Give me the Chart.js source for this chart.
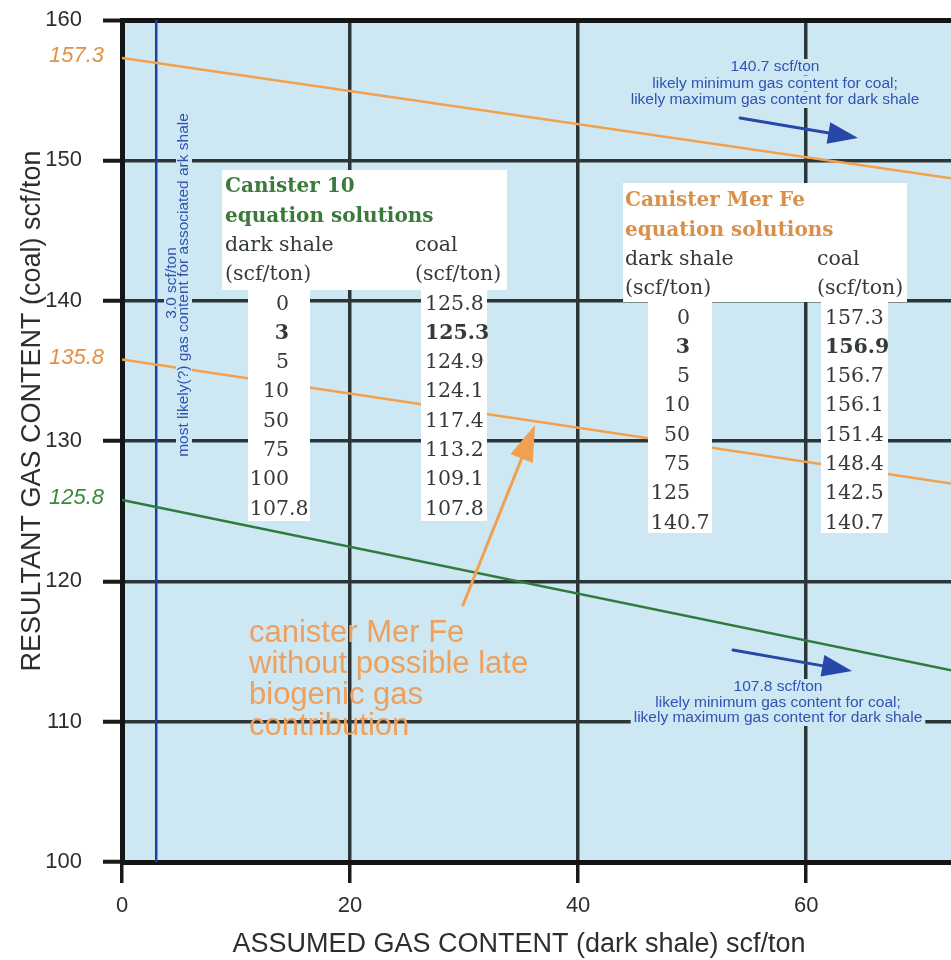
<!DOCTYPE html>
<html>
<head>
<meta charset="utf-8">
<script src="https://cdn.jsdelivr.net/npm/chart.js@4.4.1/dist/chart.umd.min.js"></script>
<style>
  html, body { margin: 0; padding: 0; background: #ffffff; }
  canvas { display: block; }
</style>
</head>
<body>
<canvas id="chart" width="951" height="960"></canvas>
<script>
// Canister 10: dark shale gas content (scf/ton) and the coal content solving its equation
const shaleC10 = [0, 3, 5, 10, 50, 75, 100, 107.8];
const coalC10 = [125.8, 125.3, 124.9, 124.1, 117.4, 113.2, 109.1, 107.8];

// Canister Mer Fe equation solutions
const shaleMerFe = [0, 3, 5, 10, 50, 75, 125, 140.7];
const coalMerFe = [157.3, 156.9, 156.7, 156.1, 151.4, 148.4, 142.5, 140.7];

// Canister Mer Fe without the possible late biogenic gas contribution
const shaleMerFeNoBio = [0, 121.1];
const coalMerFeNoBio = [135.8, 121.1];

// Most likely gas content of the associated dark shale
const likelyShale = 3.0;

const xTicks = [0, 20, 40, 60];
const yTicks = [100, 110, 120, 130, 140, 150, 160];
const boldRow = 1; // the 3 scf/ton row is set in bold

const SANS = "'Liberation Sans', Arial, Helvetica, sans-serif";
const SERIF = "'DejaVu Serif', 'Liberation Serif', serif";
const PLOT_BG = '#cde8f3';
const ORANGE = '#f2a04e';
const GREEN = '#2f7b3c';
const BLUE = '#1f3f9f';
const NOTE_BLUE = '#3152b4';
const TEXT = '#353a3b';

const pts = (xs, ys) => xs.map((x, i) => ({ x, y: ys[i] }));
// each solution line runs straight from its zero-shale value to where coal equals shale
const ends = (xs, ys) => [{ x: xs[0], y: ys[0] }, { x: xs[xs.length - 1], y: ys[ys.length - 1] }];
const fmt = v => String(v);

const plotBackground = {
  id: 'plotBackground',
  beforeDraw(chart) {
    const { ctx, chartArea: a } = chart;
    ctx.save();
    ctx.fillStyle = PLOT_BG;
    ctx.fillRect(a.left, a.top, a.right - a.left, a.bottom - a.top);
    ctx.restore();
  }
};

function arrow(ctx, x1, y1, x2, y2, color, lw, headLen, headHalf) {
  const ang = Math.atan2(y2 - y1, x2 - x1);
  const bx = x2 - headLen * Math.cos(ang);
  const by = y2 - headLen * Math.sin(ang);
  ctx.save();
  ctx.strokeStyle = color;
  ctx.fillStyle = color;
  ctx.lineWidth = lw;
  ctx.lineCap = 'round';
  ctx.beginPath();
  ctx.moveTo(x1, y1);
  ctx.lineTo(bx + 2 * Math.cos(ang), by + 2 * Math.sin(ang));
  ctx.stroke();
  ctx.beginPath();
  ctx.moveTo(x2, y2);
  ctx.lineTo(bx + headHalf * Math.sin(ang), by - headHalf * Math.cos(ang));
  ctx.lineTo(bx - headHalf * Math.sin(ang), by + headHalf * Math.cos(ang));
  ctx.closePath();
  ctx.fill();
  ctx.restore();
}

// Centred note lines with a patch of plot colour behind each line
function note(ctx, lines, cx, ys, font, color) {
  ctx.save();
  ctx.font = font;
  ctx.textAlign = 'center';
  ctx.textBaseline = 'middle';
  lines.forEach((t, i) => {
    const w = ctx.measureText(t).width;
    ctx.fillStyle = PLOT_BG;
    ctx.fillRect(cx - w / 2 - 3, ys[i] - 8, w + 6, 16);
  });
  ctx.fillStyle = color;
  lines.forEach((t, i) => ctx.fillText(t, cx, ys[i]));
  ctx.restore();
}

function solutionTable(ctx, t) {
  ctx.save();
  ctx.fillStyle = '#ffffff';
  [t.headBox, t.leftBox, t.rightBox].forEach(b => ctx.fillRect(b[0], b[1], b[2] - b[0], b[3] - b[1]));
  ctx.textBaseline = 'middle';
  ctx.textAlign = 'left';
  const lineY = k => t.y0 + k * t.pitch;
  ctx.font = 'bold 20px ' + SERIF;
  ctx.fillStyle = t.titleColor;
  ctx.fillText(t.title, t.x0, lineY(0));
  ctx.fillText('equation solutions', t.x0, lineY(1));
  ctx.font = '20.5px ' + SERIF;
  ctx.fillStyle = TEXT;
  ctx.fillText('dark shale', t.x0, lineY(2));
  ctx.fillText('(scf/ton)', t.x0, lineY(3));
  ctx.fillText('coal', t.coalHead, lineY(2));
  ctx.fillText('(scf/ton)', t.coalHead, lineY(3));
  t.shale.forEach((v, i) => {
    ctx.font = (i === boldRow ? 'bold ' : '') + '20.5px ' + SERIF;
    const s = fmt(v);
    const intPart = s.split('.')[0];
    const wInt = ctx.measureText(intPart).width;
    ctx.fillText(s, t.decX - wInt, lineY(4 + i));
    ctx.fillText(fmt(t.coal[i]), t.coalX, lineY(4 + i));
  });
  ctx.restore();
}

const notes = {
  id: 'notes',
  afterDatasetsDraw(chart) {
    const { ctx, scales: { y } } = chart;

    // values at zero dark shale, written beside the axis
    ctx.save();
    ctx.font = 'italic 22px ' + SANS;
    ctx.textAlign = 'right';
    ctx.textBaseline = 'middle';
    ctx.fillStyle = '#e0924a';
    ctx.fillText(fmt(coalMerFe[0]), 104, y.getPixelForValue(coalMerFe[0]) - 2);
    ctx.fillText(fmt(coalMerFeNoBio[0]), 104, y.getPixelForValue(coalMerFeNoBio[0]) - 2);
    ctx.fillStyle = '#3a8a3e';
    ctx.fillText(fmt(coalC10[0]), 104, y.getPixelForValue(coalC10[0]) - 2);
    ctx.restore();

    solutionTable(ctx, {
      title: 'Canister 10', titleColor: '#3b7a3b',
      headBox: [222, 170, 507, 290], leftBox: [248, 290, 310, 521], rightBox: [421, 290, 487, 521],
      x0: 225, y0: 187, pitch: 29.3, coalHead: 415, coalX: 425, decX: 289,
      shale: shaleC10, coal: coalC10
    });
    solutionTable(ctx, {
      title: 'Canister Mer Fe', titleColor: '#d8904a',
      headBox: [623, 183, 907, 302], leftBox: [648, 302, 712, 533], rightBox: [821, 302, 888, 533],
      x0: 625, y0: 201, pitch: 29.3, coalHead: 817, coalX: 825, decX: 690,
      shale: shaleMerFe, coal: coalMerFe
    });

    // limit notes with their arrows
    const noteFont = '15.5px ' + SANS;
    const merMax = coalMerFe[coalMerFe.length - 1];
    const c10Max = coalC10[coalC10.length - 1];
    note(ctx, [fmt(merMax) + ' scf/ton', 'likely minimum gas content for coal;', 'likely maximum gas content for dark shale'],
      775, [67, 83.5, 100], noteFont, NOTE_BLUE);
    arrow(ctx, 740, 118, 858, 138, '#2848a8', 3, 30, 11);
    arrow(ctx, 733, 650, 852, 671, '#2848a8', 3, 30, 11);
    note(ctx, [fmt(c10Max) + ' scf/ton', 'likely minimum gas content for coal;', 'likely maximum gas content for dark shale'],
      778, [687, 702.5, 718], noteFont, NOTE_BLUE);

    // vertical note beside the 3.0 scf/ton line
    ctx.save();
    ctx.translate(178, 284);
    ctx.rotate(-Math.PI / 2);
    ctx.font = noteFont;
    ctx.textAlign = 'center';
    ctx.textBaseline = 'middle';
    const vLines = [likelyShale.toFixed(1) + ' scf/ton', 'most likely(?) gas content for associated ark shale'];
    const vOff = [[1, -6], [-1, 6]];
    vLines.forEach((t, i) => {
      const w = ctx.measureText(t).width;
      ctx.fillStyle = PLOT_BG;
      ctx.fillRect(vOff[i][0] - w / 2 - 3, vOff[i][1] - 8, w + 6, 16);
    });
    ctx.fillStyle = NOTE_BLUE;
    vLines.forEach((t, i) => ctx.fillText(t, vOff[i][0], vOff[i][1]));
    ctx.restore();

    // label for the lower Mer Fe line
    ctx.save();
    ctx.font = '31px ' + SANS;
    ctx.textAlign = 'left';
    ctx.textBaseline = 'middle';
    ctx.fillStyle = '#eea05c';
    ['canister Mer Fe', 'without possible late', 'biogenic gas', 'contribution']
      .forEach((t, i) => ctx.fillText(t, 249, 633 + i * 31.3));
    ctx.restore();
    arrow(ctx, 463, 605, 535, 425, '#f0a050', 3, 36, 12);
  },
  afterDraw(chart) {
    const { ctx } = chart;
    ctx.save();
    ctx.fillStyle = '#2e2e2e';
    ctx.font = '27px ' + SANS;
    ctx.textAlign = 'center';
    ctx.textBaseline = 'middle';
    ctx.fillText('ASSUMED GAS CONTENT (dark shale) scf/ton', 519, 945);
    ctx.translate(33, 411);
    ctx.rotate(-Math.PI / 2);
    ctx.fillText('RESULTANT GAS CONTENT (coal) scf/ton', 0, 0);
    ctx.restore();
  }
};

new Chart(document.getElementById('chart'), {
  type: 'scatter',
  data: {
    datasets: [
      { label: 'Canister Mer Fe', data: ends(shaleMerFe, coalMerFe), showLine: true,
        borderColor: ORANGE, borderWidth: 2.5, pointRadius: 0 },
      { label: 'Canister Mer Fe without late biogenic gas', data: pts(shaleMerFeNoBio, coalMerFeNoBio), showLine: true,
        borderColor: ORANGE, borderWidth: 2.5, pointRadius: 0 },
      { label: 'Canister 10', data: ends(shaleC10, coalC10), showLine: true,
        borderColor: GREEN, borderWidth: 2.5, pointRadius: 0 },
      { label: 'Likely dark shale content', data: [{ x: likelyShale, y: yTicks[0] }, { x: likelyShale, y: yTicks[yTicks.length - 1] }],
        showLine: true, borderColor: BLUE, borderWidth: 2.5, pointRadius: 0 }
    ]
  },
  options: {
    responsive: false,
    animation: false,
    devicePixelRatio: 1,
    layout: { padding: { top: 20, right: 0, bottom: 0, left: 0 } },
    plugins: { legend: { display: false }, tooltip: { enabled: false } },
    scales: {
      x: {
        type: 'linear', min: 0, max: 72.7,
        afterBuildTicks: s => { s.ticks = xTicks.map(v => ({ value: v })); },
        afterFit: s => { s.height = 98; s.paddingLeft = 0; s.paddingRight = 0; },
        grid: { color: '#2c3638', lineWidth: 3.5, tickLength: 21, tickColor: '#1a1a1a', tickWidth: 3.5 },
        border: { color: '#151515', width: 5 },
        ticks: { font: { family: SANS, size: 22 }, color: '#2e2e2e', padding: 10, maxRotation: 0, autoSkip: false }
      },
      y: {
        type: 'linear', min: 100, max: 160,
        afterBuildTicks: s => { s.ticks = yTicks.map(v => ({ value: v })); },
        afterFit: s => { s.width = 122; s.paddingTop = 0; s.paddingBottom = 0; },
        grid: {
          color: c => (c.tick && c.tick.value === 160 ? '#151515' : '#2c3638'),
          lineWidth: c => (c.tick && c.tick.value === 160 ? 5 : 3.5),
          tickLength: 19, tickColor: '#1a1a1a', tickWidth: 4
        },
        border: { color: '#151515', width: 5 },
        ticks: { font: { family: SANS, size: 22 }, color: '#2e2e2e', padding: 21, autoSkip: false }
      }
    }
  },
  plugins: [plotBackground, notes]
});
</script>
</body>
</html>
